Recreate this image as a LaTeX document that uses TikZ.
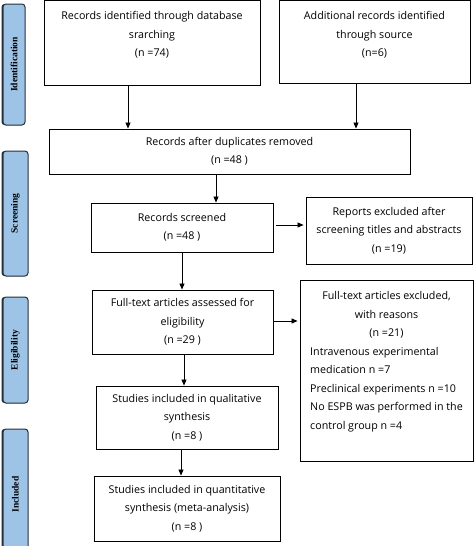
\documentclass[tikz,border=0pt]{standalone}
\usepackage{fontspec}
\setmainfont{Open Sans}
\newfontfamily\tabfont{Liberation Serif}
\usepackage{tikz}
\usetikzlibrary{arrows.meta, positioning, calc, shadows}
\definecolor{tabblue}{RGB}{157,195,230}
\definecolor{tabedge}{RGB}{40,48,58}
\newcommand{\pad}[1]{\rule[-#1]{0pt}{0pt}}

\begin{document}
\begin{tikzpicture}[x=1pt,y=-1pt,
  font=\fontsize{10.7}{18.5}\selectfont,
  blk/.style={draw=black,line width=0.9pt,align=center,inner sep=0pt},
  tab/.style={draw=tabedge,fill=tabblue,line width=1pt,rounded corners=3pt,
              rotate=90,inner sep=0pt,
              drop shadow={shadow xshift=-1.5pt,shadow yshift=0pt,
                           opacity=1,fill=tabedge},
              font=\tabfont\bfseries\fontsize{9.5}{10}\selectfont},
  arr/.style={-{Triangle[length=6pt,width=5pt]},line width=0.8pt}
]
  \useasboundingbox (0,0) rectangle (474,546);
  % stage tabs
  \node[tab,minimum width=121pt,minimum height=22pt] (idt) at (14,64.5) {Identification};
  \node[tab,minimum width=125pt,minimum height=25pt] (scn) at (15.5,213.5) {Screening};
  \node[tab,minimum width=106pt,minimum height=25pt] (elg) at (15.5,350) {Eligibility};
  \node[tab,minimum width=131pt,minimum height=25pt] (inc) at (15.5,494.5) {Included};
  % boxes
  \node[blk,minimum width=216pt,minimum height=85pt] (db) at (152,42.5)
    {Records identified through database\\srarching\\(n =74)\pad{17pt}};
  \node[blk,minimum width=191pt,minimum height=83pt] (src) at (374.5,41.5)
    {Additional records identified\\through source\\(n=6)\pad{15pt}};
  \node[blk,minimum width=361pt,minimum height=45pt] (dup) at (229.5,151.5)
    {Records after duplicates removed\\(n =48 )};
  \node[blk,minimum width=182pt,minimum height=49pt] (scr) at (182,227.5)
    {Records screened\\(n =48 )};
  \node[blk,minimum width=166pt,minimum height=67pt] (rep) at (389,230.5)
    {Reports excluded after\\screening titles and abstracts\\(n =19)};
  \node[blk,minimum width=181pt,minimum height=64pt] (fta) at (182.5,322)
    {Full-text articles assessed for\\eligibility\\(n =29 )};
  \node[blk,minimum width=173pt,minimum height=181pt] (ftx) at (386.5,370.5)
    {\begin{tabular}{@{}l@{}}
     \multicolumn{1}{@{}c@{}}{Full-text articles excluded,}\\
     \multicolumn{1}{@{}c@{}}{with reasons}\\
     \multicolumn{1}{@{}c@{}}{(n =21)}\\
     Intravenous experimental\\
     medication n =7\\
     Preclinical experiments n =10\\
     No ESPB was performed in the\\
     control group n =4\pad{25pt}
     \end{tabular}};
  \node[blk,minimum width=182pt,minimum height=63pt] (qual) at (187,417.5)
    {Studies included in qualitative\\synthesis\\(n =8 )};
  \node[blk,minimum width=186pt,minimum height=65pt] (quan) at (187,508.5)
    {Studies included in quantitative\\synthesis (meta-analysis)\\(n =8 )};
  % connectors
  \draw[arr] ([xshift=-24pt]db.south) -- ([xshift=-24pt]db.south |- dup.north);
  \draw[arr] ([xshift=-18.5pt]src.south) -- ([xshift=-18.5pt]src.south |- dup.north);
  \draw[arr] ([xshift=-13.5pt]dup.south) -- ([xshift=-13.5pt]dup.south |- scr.north);
  \draw[arr,shorten <=3pt,shorten >=2pt] ([yshift=2.5pt]scr.east) -- ([yshift=2.5pt]scr.east -| rep.west);
  \draw[arr] (scr.south) -- (scr.south |- fta.north);
  \draw[arr,shorten <=1pt,shorten >=2pt] ([yshift=1pt]fta.east) -- ([yshift=1pt]fta.east -| ftx.west);
  \draw[arr] ([xshift=1.5pt]fta.south) -- ([xshift=1.5pt]fta.south |- qual.north);
  \draw[arr] ([xshift=-6pt]qual.south) -- ([xshift=-6pt]qual.south |- quan.north);
\end{tikzpicture}
\end{document}
